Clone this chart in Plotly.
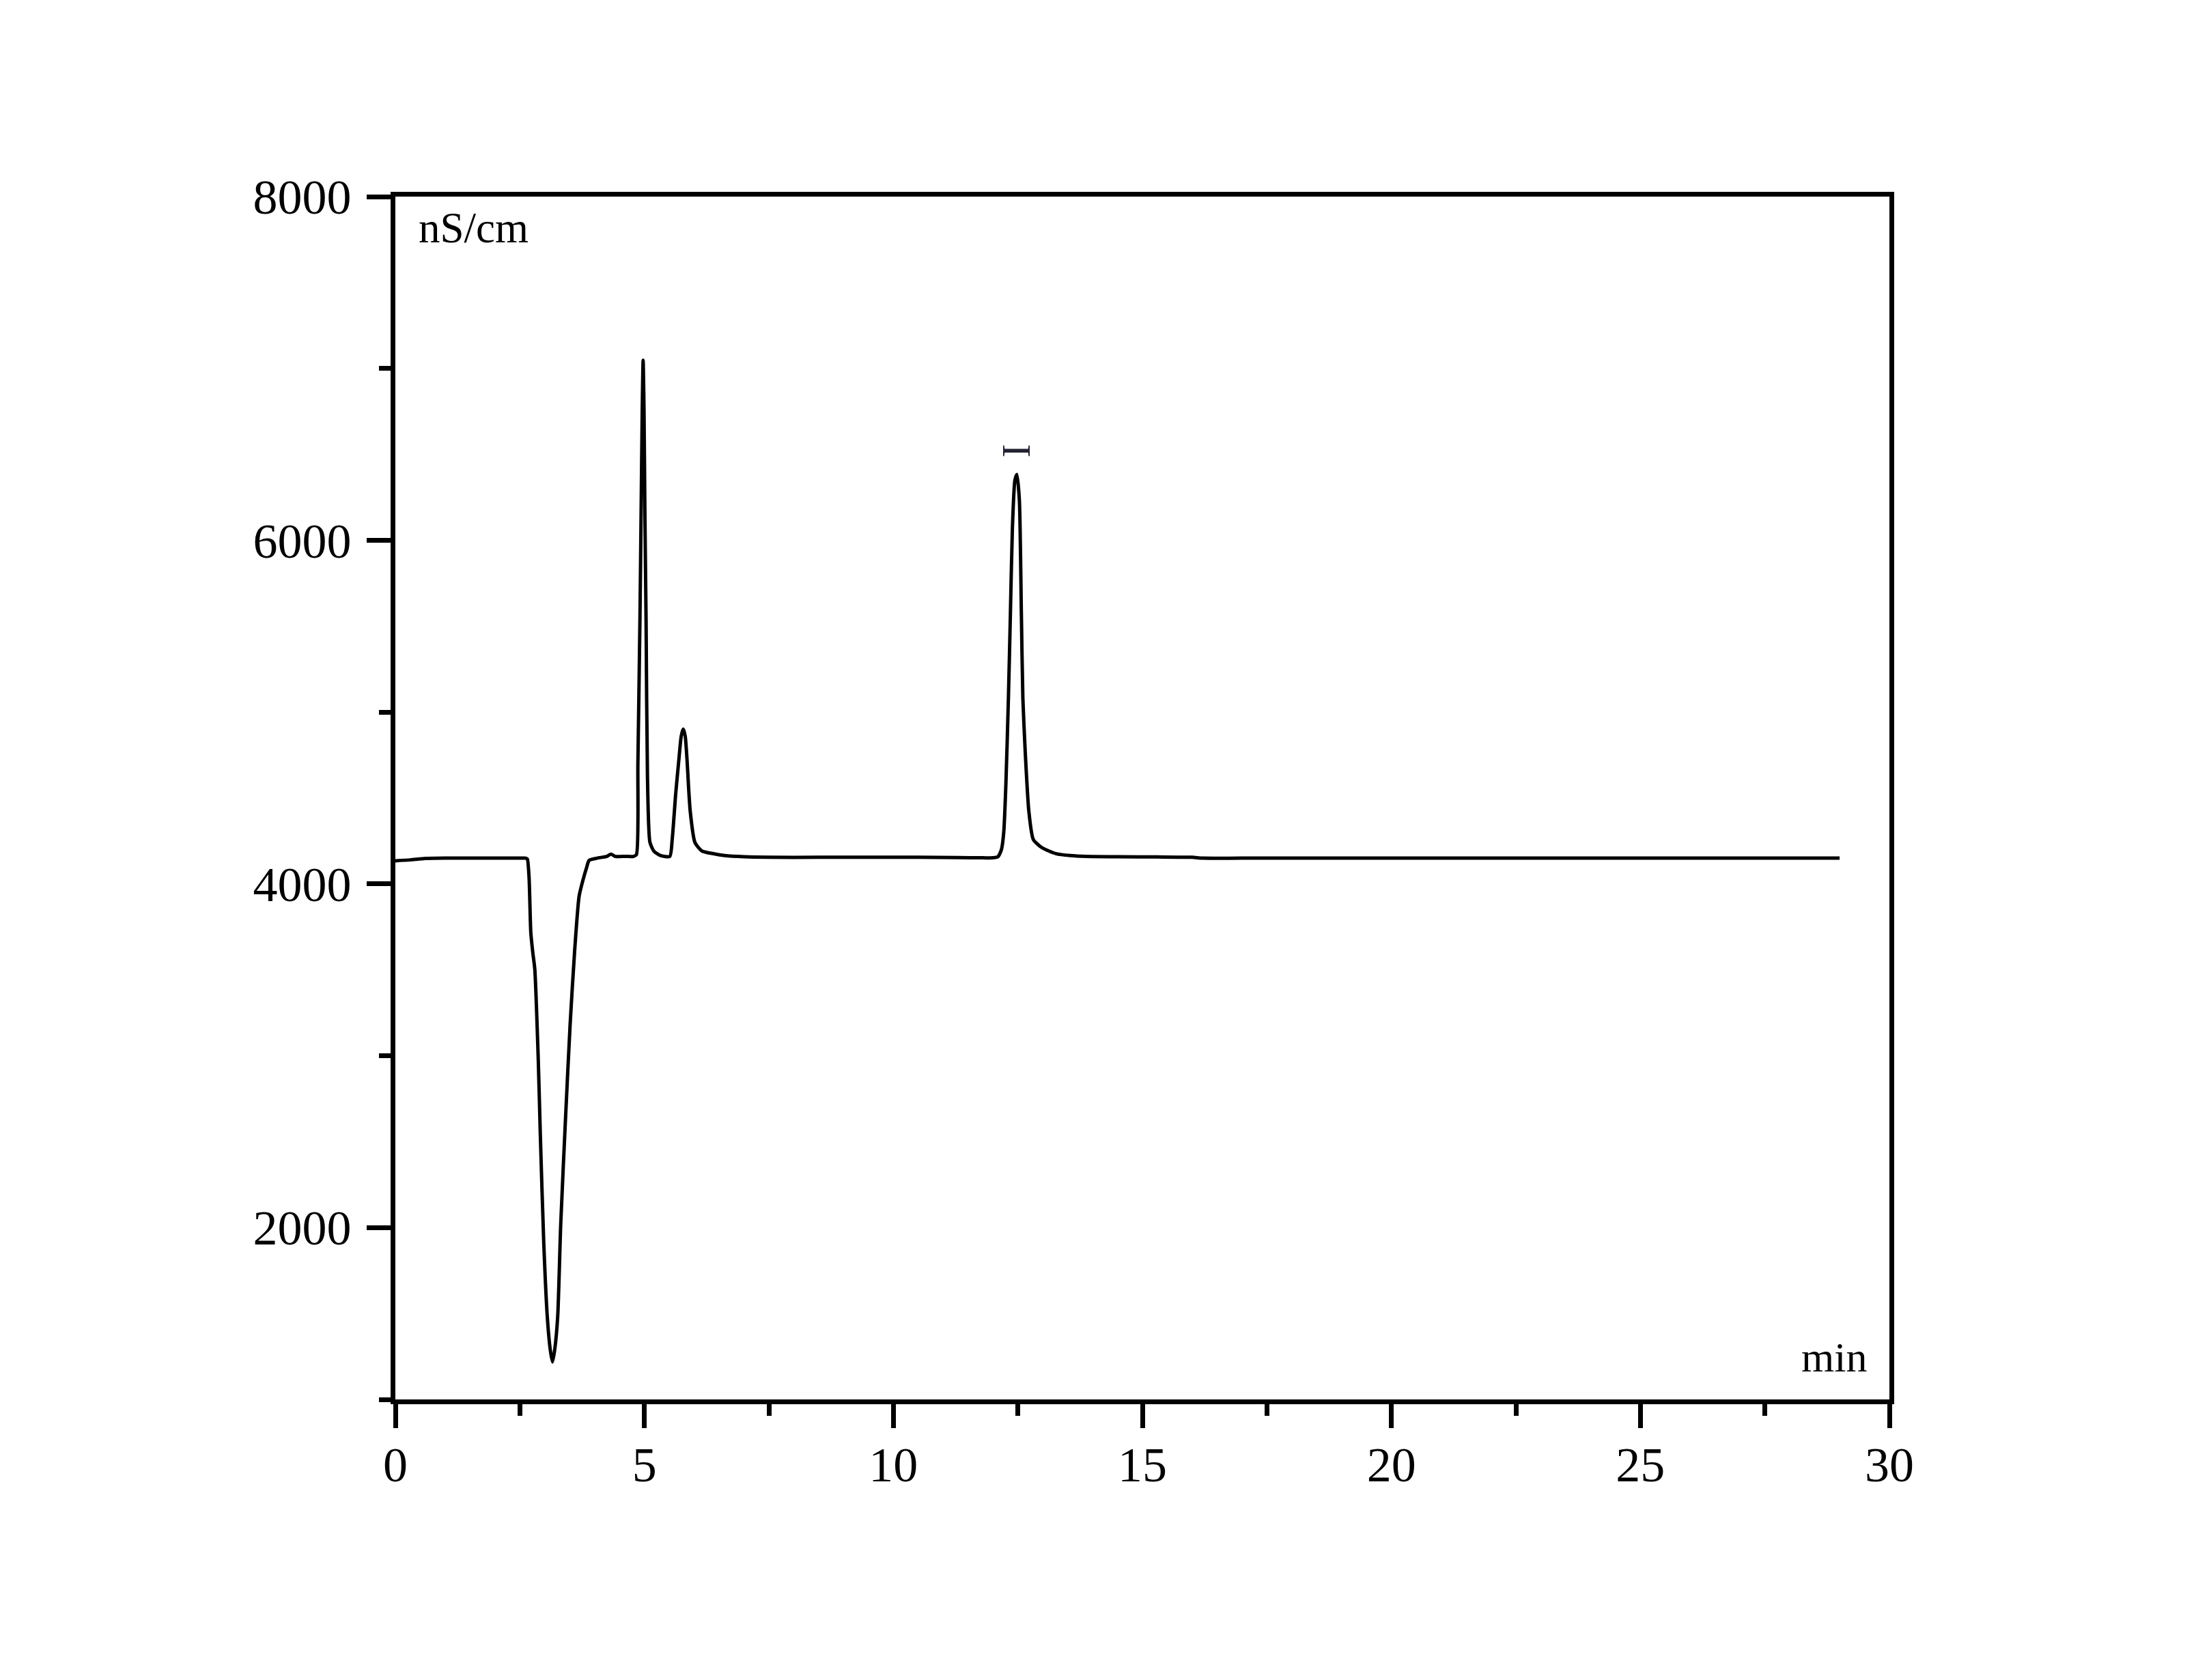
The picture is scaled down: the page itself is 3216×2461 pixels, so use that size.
import plotly.graph_objects as go

# Retention time (min)
time_min = [
    0.0, 0.3, 0.6, 1.0, 2.0, 2.5, 2.62, 2.65, 2.685, 2.72, 2.76, 2.80, 2.87, 2.91, 2.98,
    3.05, 3.11, 3.155, 3.20, 3.26, 3.32, 3.42, 3.51, 3.60, 3.69, 3.78, 3.84, 3.89,
    4.05, 4.24, 4.33, 4.42, 4.55, 4.69, 4.78, 4.84, 4.87, 4.911, 4.934, 4.957, 4.975, 4.993,
    5.011, 5.034, 5.062, 5.112, 5.194, 5.33, 5.51, 5.56, 5.63, 5.695, 5.74, 5.78,
    5.82, 5.855, 5.92, 6.015, 6.15, 6.4, 6.61, 7.0, 7.5, 8.5, 9.5, 10.5, 11.3, 11.8,
    12.0, 12.1, 12.17, 12.216, 12.26, 12.31,
    12.35, 12.39, 12.44, 12.48, 12.53, 12.57, 12.60, 12.65, 12.72, 12.81, 12.99,
    13.27, 13.55, 13.86, 14.5, 15.3, 16.0, 16.2, 17.0, 20.0, 24.0, 29.0,
]

# Conductivity (nS/cm)
conductivity = [
    4135, 4140, 4148, 4150, 4150, 4150, 4150, 4145, 4036, 3716, 3600, 3504, 2972, 2548, 1909,
    1484, 1290, 1218, 1290, 1484, 2016, 2655, 3187, 3611, 3929, 4036, 4095, 4137,
    4150, 4160, 4173, 4160, 4160, 4160, 4160, 4170, 4700, 5540, 6147, 6754, 7048, 6754,
    6147, 5540, 4627, 4242, 4190, 4165, 4160, 4263, 4528, 4730, 4860, 4901,
    4860, 4730, 4425, 4242, 4193, 4175, 4165, 4158, 4155, 4155, 4155, 4155, 4153, 4152,
    4152, 4158, 4200, 4300, 4587, 5082,
    5575, 6070, 6349, 6383, 6234, 5575, 5082, 4754, 4424, 4258, 4210,
    4176, 4165, 4160, 4158, 4157, 4155, 4150, 4150, 4150, 4150, 4150,
]

x_ticks = [0, 5, 10, 15, 20, 25, 30]
x_tick_labels = ["0", "5", "10", "15", "20", "25", "30"]
y_ticks = [2000, 4000, 6000, 8000]
y_tick_labels = ["2000", "4000", "6000", "8000"]

peak_label = "I"
peak_label_time = 12.48
peak_label_value = 6520

FONT = "Liberation Serif"

fig = go.Figure()
fig.add_trace(go.Scatter(
    x=time_min, y=conductivity, mode="lines",
    line=dict(color="black", width=5, shape="spline", smoothing=0.6),
    showlegend=False,
))

axis_common = dict(
    showline=True, linecolor="black", linewidth=7, mirror=True,
    showgrid=False, zeroline=False,
    ticks="outside", ticklen=35, tickwidth=7, tickcolor="black",
    tickfont=dict(family=FONT, size=72, color="black"),
)

fig.update_xaxes(
    range=[0, 30], tickmode="array", tickvals=x_ticks, ticktext=x_tick_labels,
    minor=dict(dtick=2.5, tick0=0, ticks="outside", ticklen=17, tickwidth=7, tickcolor="black"),
    ticklabelstandoff=-8,
    **axis_common,
)
fig.update_yaxes(
    range=[1000, 8000], tickmode="array", tickvals=y_ticks, ticktext=y_tick_labels,
    minor=dict(dtick=1000, tick0=0, ticks="outside", ticklen=17, tickwidth=7, tickcolor="black"),
    ticklabelstandoff=8,
    **axis_common,
)

fig.add_annotation(
    text="nS/cm", xref="paper", yref="paper", x=0.0146, y=0.974,
    xanchor="left", yanchor="middle", showarrow=False,
    font=dict(family=FONT, size=63, color="black"),
)
fig.add_annotation(
    text="min", xref="paper", yref="paper", x=0.986, y=0.035,
    xanchor="right", yanchor="middle", showarrow=False,
    font=dict(family=FONT, size=62, color="black"),
)
fig.add_annotation(
    text=peak_label, x=peak_label_time, y=peak_label_value,
    showarrow=False, textangle=90,
    font=dict(family=FONT, size=60, color="#222233"),
)

fig.update_layout(
    width=3216, height=2461,
    margin=dict(l=571, r=457, t=280, b=419, pad=0),
    paper_bgcolor="white", plot_bgcolor="white",
)

fig.write_html("out.html")
